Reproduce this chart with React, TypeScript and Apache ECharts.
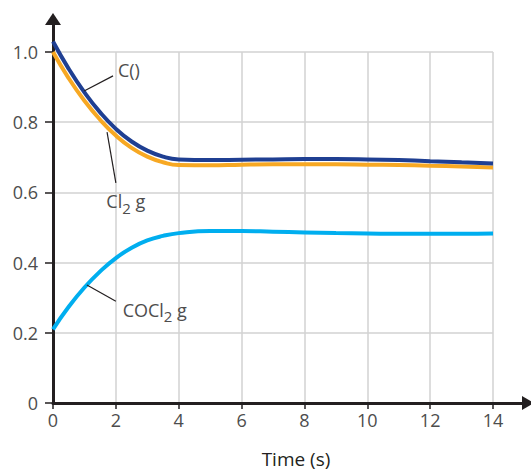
import React, { useEffect, useRef } from "react";
import * as echarts from "echarts";

const times = [0, 0.5, 1, 1.5, 2, 2.5, 3, 3.5, 4, 5, 6, 7, 8, 9, 10, 11, 12, 13, 14];
const coValues = [1.03, 0.952, 0.885, 0.828, 0.781, 0.745, 0.719, 0.702, 0.694, 0.692, 0.693, 0.694, 0.695, 0.695, 0.694, 0.692, 0.689, 0.686, 0.682];
const cl2Values = [1.0, 0.925, 0.861, 0.807, 0.762, 0.727, 0.702, 0.686, 0.678, 0.677, 0.679, 0.68, 0.68, 0.68, 0.679, 0.678, 0.676, 0.674, 0.671];
const cocl2Values = [0.21, 0.274, 0.329, 0.375, 0.413, 0.442, 0.463, 0.476, 0.484, 0.49, 0.49, 0.488, 0.486, 0.484, 0.483, 0.482, 0.482, 0.482, 0.483];

const xTicks = [0, 2, 4, 6, 8, 10, 12, 14];
const yTicks = [0, 0.2, 0.4, 0.6, 0.8, 1.0];

const FONT = "'Open Sans', 'Noto Sans', sans-serif";

const pairs = (vals: number[]) => times.map((t, i) => [t, vals[i]]);

const leader = (a: number[], b: number[]) => ({
  silent: true,
  symbol: ["none", "none"],
  label: { show: false },
  lineStyle: { color: "#231f20", width: 1.2, type: "solid" },
  emphasis: { disabled: true },
  data: [[{ coord: a }, { coord: b }]],
});

const note = (coord: number[], formatter: string) => ({
  silent: true,
  symbol: "circle",
  symbolSize: 1,
  itemStyle: { color: "rgba(0,0,0,0)" },
  label: {
    show: true,
    position: "right",
    distance: 0,
    formatter,
    color: "#4d4d4d",
    fontFamily: FONT,
    fontSize: 18,
    rich: {
      a: { fontSize: 18, color: "#4d4d4d", fontFamily: FONT, lineHeight: 28, verticalAlign: "middle" },
      b: { fontSize: 15, color: "#4d4d4d", fontFamily: FONT, lineHeight: 15, verticalAlign: "bottom" },
    },
  },
  data: [{ coord }],
});

export default function App() {
  const ref = useRef<HTMLDivElement>(null);
  useEffect(() => {
    if (!ref.current) return;
    const chart = echarts.init(ref.current, null, { renderer: "svg" });
    chart.setOption({
      animation: false,
      backgroundColor: "#ffffff",
      grid: [
        { left: 53, right: 38, top: 52, bottom: 70, containLabel: false },
        { left: 53, right: 3, top: 19, bottom: 70, containLabel: false },
      ],
      xAxis: [
        {
          type: "value",
          gridIndex: 0,
          min: 0,
          max: 14,
          interval: 2,
          axisLine: { show: false },
          axisTick: { show: true, length: 6, lineStyle: { color: "#231f20", width: 1.5 } },
          axisLabel: {
            margin: 8,
            color: "#4d4d4d",
            fontFamily: FONT,
            fontSize: 18,
            formatter: (v: number) => (xTicks.includes(v) ? String(v) : ""),
          },
          splitLine: { show: true, lineStyle: { color: "#d2d2d2", width: 1.5 } },
        },
        {
          type: "value",
          gridIndex: 1,
          min: 0,
          max: 1,
          axisLine: {
            show: true,
            symbol: ["none", "triangle"],
            symbolSize: [14, 12],
            lineStyle: { color: "#231f20", width: 3 },
          },
          axisTick: { show: false },
          axisLabel: { show: false },
          splitLine: { show: false },
        },
      ],
      yAxis: [
        {
          type: "value",
          gridIndex: 0,
          min: 0,
          max: 1,
          interval: 0.2,
          axisLine: { show: false },
          axisTick: { show: true, length: 8, lineStyle: { color: "#231f20", width: 1.5 } },
          axisLabel: {
            margin: 15,
            color: "#4d4d4d",
            fontFamily: FONT,
            fontSize: 18,
            formatter: (v: number) => {
              const t = yTicks.find((y) => Math.abs(y - v) < 1e-6);
              if (t === undefined) return "";
              return t === 0 ? "0" : t.toFixed(1);
            },
          },
          splitLine: { show: true, lineStyle: { color: "#d2d2d2", width: 1.5 } },
        },
        {
          type: "value",
          gridIndex: 1,
          min: 0,
          max: 1,
          axisLine: {
            show: true,
            symbol: ["none", "triangle"],
            symbolSize: [16, 12],
            lineStyle: { color: "#231f20", width: 3 },
          },
          axisTick: { show: false },
          axisLabel: { show: false },
          splitLine: { show: false },
        },
      ],
      graphic: [
        {
          type: "text",
          x: 296,
          y: 459,
          style: {
            text: "Time (s)",
            fontFamily: FONT,
            fontSize: 19,
            fill: "#231f20",
            align: "center",
            verticalAlign: "middle",
            textAlign: "center",
            textVerticalAlign: "middle",
          },
        },
      ],
      series: [
        {
          name: "COCl2 g",
          type: "line",
          xAxisIndex: 0,
          yAxisIndex: 0,
          data: pairs(cocl2Values),
          smooth: 0.5,
          clip: false,
          showSymbol: false,
          lineStyle: { color: "#00aeef", width: 4 },
          markLine: leader([1.08, 0.336], [2.0, 0.29]),
          markPoint: note([2.2, 0.265], "{a|COCl}{b|2}{a| g}"),
        },
        {
          name: "Cl2 g",
          type: "line",
          xAxisIndex: 0,
          yAxisIndex: 0,
          data: pairs(cl2Values),
          smooth: 0.5,
          clip: false,
          showSymbol: false,
          lineStyle: { color: "#f7a823", width: 4 },
          markLine: leader([1.72, 0.772], [2.0, 0.627]),
          markPoint: note([1.68, 0.575], "{a|Cl}{b|2}{a| g}"),
        },
        {
          name: "C()",
          type: "line",
          xAxisIndex: 0,
          yAxisIndex: 0,
          data: pairs(coValues),
          smooth: 0.5,
          clip: false,
          showSymbol: false,
          lineStyle: { color: "#1f3f92", width: 4 },
          markLine: leader([0.99, 0.889], [1.91, 0.932]),
          markPoint: note([2.05, 0.949], "{a|C()}"),
        },
      ],
    });
    return () => chart.dispose();
  }, []);
  return (
    <div
      ref={ref}
      style={{ position: "fixed", left: 0, top: 0, width: 531, height: 473, background: "#fff" }}
    />
  );
}
